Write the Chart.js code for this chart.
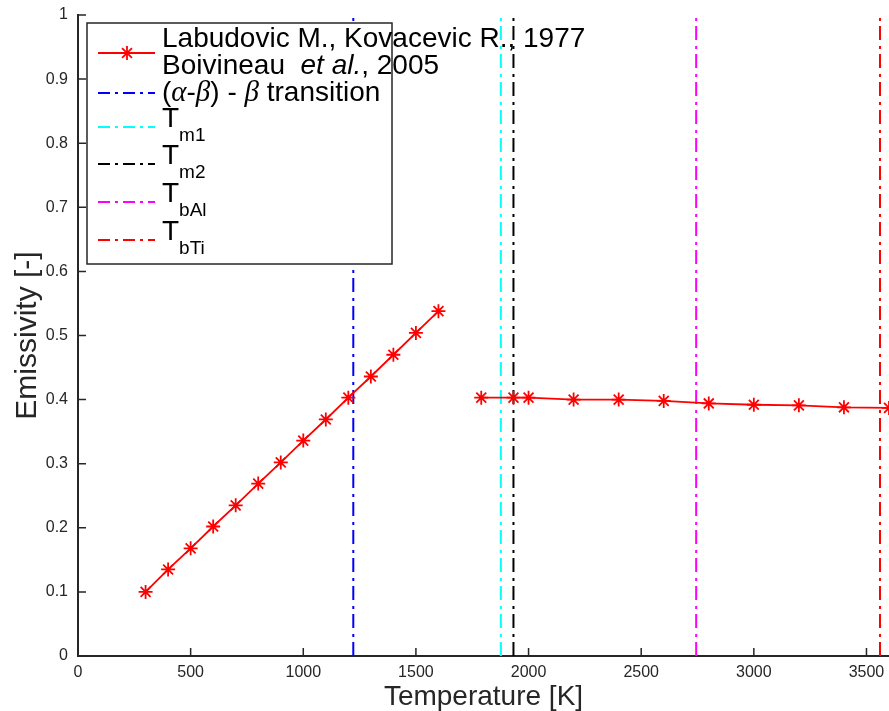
<!DOCTYPE html>
<html>
<head>
<meta charset="utf-8">
<script src="https://cdn.jsdelivr.net/npm/chart.js@4.4.1/dist/chart.umd.min.js"></script>
<style>
    html, body { margin: 0; padding: 0; background: #fff; overflow: hidden; }
    #wrap { width: 889px; height: 711px; }
</style>
</head>
<body>
<div id="wrap"><canvas id="myChart"></canvas></div>
<script>
// DEBUT DONNEES
let labudovicT = [300, 400, 500, 600, 700, 800, 900, 1000, 1100, 1200, 1300, 1400, 1500, 1600];
let labudovicE = [0.100, 0.135, 0.168, 0.202, 0.235, 0.269, 0.302, 0.336, 0.369, 0.403, 0.436, 0.470, 0.504, 0.538];
let boivineauT = [1790, 1933, 2000, 2200, 2400, 2600, 2800, 3000, 3200, 3400, 3600];
let boivineauE = [0.403, 0.403, 0.403, 0.400, 0.400, 0.398, 0.394, 0.392, 0.391, 0.388, 0.387];
let transitionT = [1222, 1877, 1933, 2744, 3560];
let transitionNames = ['(α-β) - β transition', 'Tm1', 'Tm2', 'TbAl', 'TbTi'];
let transitionColors = ['#0000ff', '#00ffff', '#000000', '#ff00ff', '#ff0000'];
let xTicks = [0, 500, 1000, 1500, 2000, 2500, 3000, 3500];
let yTicks = [0, 0.1, 0.2, 0.3, 0.4, 0.5, 0.6, 0.7, 0.8, 0.9, 1];
// FIN DONNEES

const FONT = "'Liberation Sans', Arial, Helvetica, sans-serif";
const AXIS = '#262626';

// one series, broken between the two sources
let emissivity = [];
labudovicT.forEach((t, i) => emissivity.push({x: t, y: labudovicE[i]}));
emissivity.push({x: 1700, y: null});
boivineauT.forEach((t, i) => emissivity.push({x: t, y: boivineauE[i]}));

let datasets = [{
    label: 'Labudovic M., Kovacevic R., 1977 / Boivineau et al., 2005',
    data: emissivity,
    showLine: true,
    spanGaps: false,
    borderColor: '#ff0000',
    borderWidth: 1.8,
    pointStyle: 'star',
    pointRadius: 7,
    pointBorderWidth: 1.8,
    pointBorderColor: '#ff0000',
    pointBackgroundColor: '#ff0000'
}];
transitionT.forEach((t, i) => {
    datasets.push({
        label: transitionNames[i],
        data: [{x: t, y: 0}, {x: t, y: 1}],
        showLine: true,
        borderColor: transitionColors[i],
        borderWidth: 2,
        borderDash: [14, 5, 3, 6],
        pointRadius: 0
    });
});

// ticks pointing inward, matlab style
const tickPlugin = {
    id: 'inTicks',
    beforeDatasetsDraw(chart) {
        const {ctx, chartArea, scales} = chart;
        ctx.save();
        ctx.strokeStyle = AXIS;
        ctx.lineWidth = 1.5;
        ctx.beginPath();
        xTicks.forEach(v => {
            let px = scales.x.getPixelForValue(v);
            ctx.moveTo(px, chartArea.bottom);
            ctx.lineTo(px, chartArea.bottom - 8);
        });
        yTicks.forEach(v => {
            let py = scales.y.getPixelForValue(v);
            ctx.moveTo(chartArea.left, py);
            ctx.lineTo(chartArea.left + 8, py);
        });
        ctx.stroke();
        ctx.restore();
    }
};

// legend box with subscripts and italics
function drawParts(ctx, x, y, parts) {
    parts.forEach(p => {
        ctx.font = p.f;
        ctx.fillText(p.t, x, y + (p.dy || 0));
        x += ctx.measureText(p.t).width;
    });
}

const legendPlugin = {
    id: 'matLegend',
    afterDraw(chart) {
        const ctx = chart.ctx;
        const N = '28px ' + FONT;
        const I = 'italic 28px ' + FONT;
        const G = 'italic 29px "Liberation Serif", "DejaVu Serif", serif';
        const S = '19px ' + FONT;
        ctx.save();
        ctx.fillStyle = '#fff';
        ctx.fillRect(87, 23, 305, 241);
        ctx.strokeStyle = AXIS;
        ctx.lineWidth = 1.5;
        ctx.strokeRect(87, 23, 305, 241);

        // sample lines
        let sampleY = [53, 93, 127, 164, 202, 240];
        ctx.lineWidth = 2;
        ctx.strokeStyle = '#ff0000';
        ctx.beginPath(); ctx.moveTo(98, sampleY[0]); ctx.lineTo(155, sampleY[0]); ctx.stroke();
        ctx.lineWidth = 1.8;
        ctx.beginPath();
        for (let k = 0; k < 4; k++) {
            let a = k * Math.PI / 4;
            ctx.moveTo(127 - 7 * Math.cos(a), sampleY[0] - 7 * Math.sin(a));
            ctx.lineTo(127 + 7 * Math.cos(a), sampleY[0] + 7 * Math.sin(a));
        }
        ctx.stroke();
        ctx.lineWidth = 2;
        ctx.setLineDash([12, 5, 3, 5]);
        transitionColors.forEach((c, i) => {
            ctx.strokeStyle = c;
            ctx.beginPath(); ctx.moveTo(98, sampleY[i + 1]); ctx.lineTo(155, sampleY[i + 1]); ctx.stroke();
        });
        ctx.setLineDash([]);

        // texts
        ctx.fillStyle = '#000';
        ctx.textBaseline = 'alphabetic';
        ctx.textAlign = 'left';
        drawParts(ctx, 162, 47, [{t: 'Labudovic M., Kovacevic R., 1977', f: N}]);
        drawParts(ctx, 162, 74, [{t: 'Boivineau  ', f: N}, {t: 'et al.', f: I}, {t: ', 2005', f: N}]);
        drawParts(ctx, 162, 101, [{t: '(', f: N}, {t: 'α', f: G}, {t: '-', f: N}, {t: 'β', f: G},
            {t: ') - ', f: N}, {t: 'β', f: G}, {t: ' transition', f: N}]);
        let subs = ['m1', 'm2', 'bAl', 'bTi'];
        subs.forEach((s, i) => {
            drawParts(ctx, 162, sampleY[i + 2], [{t: 'T', f: N}, {t: s, f: S, dy: 14}]);
        });
        ctx.restore();
    }
};

let myChart = document.getElementById('myChart').getContext('2d');
let chart = new Chart(myChart, {
    type: 'scatter',
    data: { datasets: datasets },
    options: {
        responsive: true,
        maintainAspectRatio: false,
        animation: false,
        layout: { autoPadding: false, padding: { top: 15, right: 0, bottom: 0, left: 0 } },
        plugins: {
            legend: { display: false },
            tooltip: { enabled: false }
        },
        scales: {
            x: {
                type: 'linear',
                min: 0,
                max: 3600,
                afterFit: s => { s.height = 55; s.paddingLeft = 0; s.paddingRight = 0; },
                afterBuildTicks: s => { s.ticks = xTicks.map(v => ({value: v})); },
                grid: { display: false, drawTicks: false },
                border: { display: true, color: AXIS, width: 2 },
                ticks: { padding: 7, color: AXIS, font: { family: FONT, size: 16 }, maxRotation: 0,
                    callback: v => String(v) },
                title: { display: true, text: 'Temperature [K]', color: AXIS,
                    font: { family: FONT, size: 28, lineHeight: 1 }, padding: 0 }
            },
            y: {
                type: 'linear',
                min: 0,
                max: 1,
                afterFit: s => { s.width = 78; s.paddingTop = 0; s.paddingBottom = 0; },
                afterBuildTicks: s => { s.ticks = yTicks.map(v => ({value: v})); },
                grid: { display: false, drawTicks: false },
                border: { display: true, color: AXIS, width: 2 },
                ticks: { padding: 10, color: AXIS, font: { family: FONT, size: 16 },
                    callback: v => String(Math.round(v * 10) / 10) },
                title: { display: true, text: 'Emissivity [-]', color: AXIS,
                    font: { family: FONT, size: 30, lineHeight: 1 }, padding: { top: 13, bottom: 0 } }
            }
        }
    },
    plugins: [tickPlugin, legendPlugin]
});
</script>
</body>
</html>
